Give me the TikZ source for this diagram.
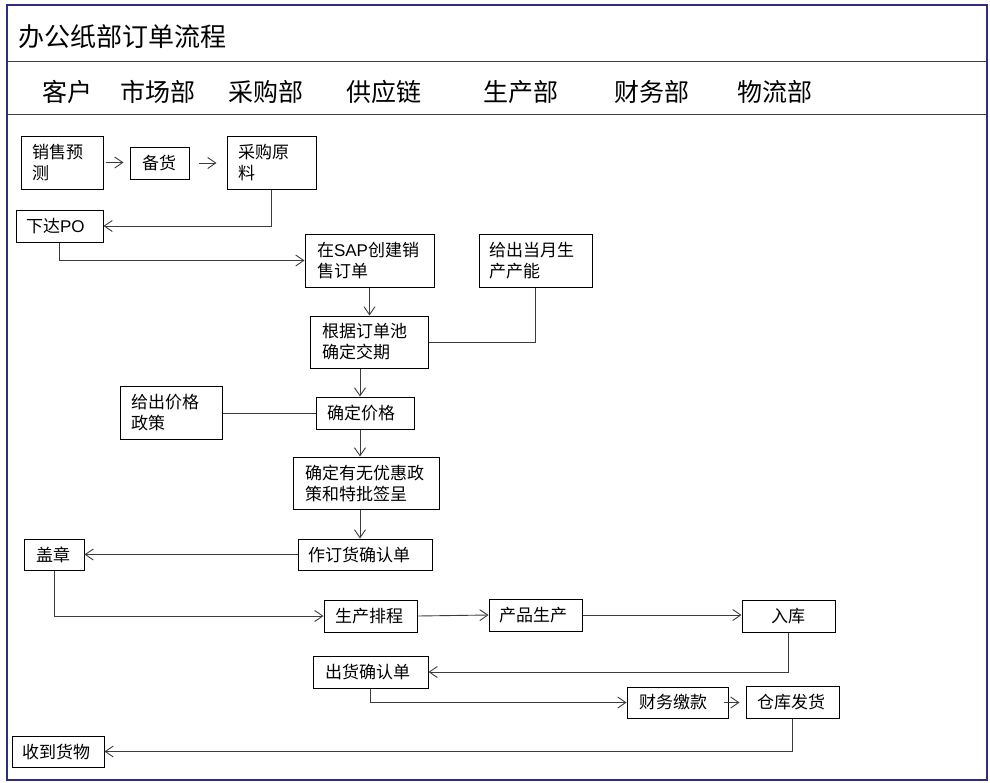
\documentclass[tikz,border=0pt]{standalone}
\usepackage{fontspec}
\setmainfont{Noto Sans CJK SC}
\newfontfamily\lat{Liberation Sans}
\usetikzlibrary{arrows.meta}
\definecolor{framec}{RGB}{45,45,130}
\definecolor{linec}{RGB}{60,60,60}
\tikzset{
  boxst/.style={draw=black, line width=1pt, inner ysep=0pt, align=left,
    font=\fontsize{17}{21}\selectfont},
  conn/.style={draw=linec, line width=0.9pt},
  arr/.style={conn, -{Straight Barb[length=8pt,width=11pt]}},
  headst/.style={font=\fontsize{25}{28}\selectfont, inner sep=0pt},
  titlest/.style={font=\fontsize{26}{30}\selectfont, inner sep=0pt, anchor=west},
  sepline/.style={draw=black!75, line width=1pt},
  framest/.style={draw=framec, line width=1.2pt}
}
\newcommand\mkbox[7][11]{%
  \pgfmathsetmacro\mbw{#5-#3}%
  \pgfmathsetmacro\mbh{#6-#4}%
  \pgfmathsetmacro\mbt{#5-#3-2*#1}%
  \node[boxst, minimum width=\mbw pt, minimum height=\mbh pt,
        text width=\mbt pt, inner xsep=#1pt] (#2) at ({(#3+#5)/2},{(#4+#6)/2}) {#7};
}
\begin{document}
\begin{tikzpicture}[x=1pt,y=-1pt]
\useasboundingbox (0,0) rectangle (990,782);
% frame and header
\draw[framest] (7,5) rectangle (987,780);
\draw[sepline] (7,61) -- (987,61);
\draw[sepline] (7,114) -- (987,114);
\node[titlest] (title) at (18,37) {办公纸部订单流程};
\node[headst] (h1) at (67,92) {客户};
\node[headst] (h2) at (158,92) {市场部};
\node[headst] (h3) at (266,92) {采购部};
\node[headst] (h4) at (384,92) {供应链};
\node[headst] (h5) at (521,92) {生产部};
\node[headst] (h6) at (652,92) {财务部};
\node[headst] (h7) at (775,92) {物流部};
% boxes
\mkbox{xsyc}{21}{136}{103}{189}{销售预\\测}
\mkbox[12]{bh}{130}{147}{189}{179}{备货}
\mkbox{cgyl}{227}{136}{316}{189}{采购原\\料}
\mkbox[10]{xdpo}{16}{210}{103}{242}{下达{\lat PO}}
\mkbox[12]{sap}{305}{234}{434}{287}{在{\lat SAP}创建销\\售订单}
\mkbox[10]{cn}{479}{234}{592}{287}{给出当月生\\产产能}
\mkbox[12]{gjd}{310}{316}{428}{368}{根据订单池\\确定交期}
\mkbox{jgzc}{120}{386}{222}{439}{给出价格\\政策}
\mkbox{qdjg}{316}{397}{414}{429}{确定价格}
\mkbox[12]{yhzc}{293}{457}{439}{509}{确定有无优惠政\\策和特批签呈}
\mkbox[10]{dhqr}{298}{539}{432}{570}{作订货确认单}
\mkbox[12]{gz}{24}{539}{84}{570}{盖章}
\mkbox{scpc}{324}{600}{417}{632}{生产排程}
\mkbox[10]{cpsc}{489}{599}{582}{631}{产品生产}
\mkbox[29]{rk}{742}{600}{835}{632}{入库}
\mkbox[12]{chqr}{313}{656}{428}{688}{出货确认单}
\mkbox[12]{cwjk}{627}{687}{728}{718}{财务缴款}
\mkbox{ckfh}{746}{686}{839}{718}{仓库发货}
\mkbox[10]{sdhw}{12}{736}{104}{767}{收到货物}
% connectors
\draw[arr, shorten <=2pt, shorten >=6pt] (xsyc.east) -- (xsyc.east -| bh.west);
\draw[arr, shorten <=9pt, shorten >=10pt] (bh.east) -- (bh.east -| cgyl.west);
\draw[arr] (cgyl.south) |- (xdpo.east);
\draw[arr] (xdpo.south) |- (sap.west);
\draw[arr] (sap.south) -- (sap.south |- gjd.north);
\draw[conn] (gjd.east) -| (cn.south);
\draw[arr] ([xshift=-9pt]gjd.south) -- ([xshift=-9pt]gjd.south |- qdjg.north);
\draw[conn] (jgzc.east |- qdjg.west) -- (qdjg.west);
\draw[arr] ([xshift=-5pt]qdjg.south) -- ([xshift=-5pt]qdjg.south |- yhzc.north);
\draw[arr] ([xshift=-6pt]yhzc.south) -- ([xshift=-6pt]yhzc.south |- dhqr.north);
\draw[arr] (dhqr.west) -- (gz.east);
\draw[arr] (gz.south) |- (scpc.west);
\draw[arr] (scpc.east) -- (cpsc.west);
\draw[arr] (cpsc.east) -- (cpsc.east -| rk.west);
\draw[arr] (rk.south) |- (chqr.east);
\draw[arr] (chqr.south) |- (cwjk.west);
\draw[arr, shorten <=-5pt, shorten >=6pt] (cwjk.east) -- (cwjk.east -| ckfh.west);
\draw[arr] (ckfh.south) |- (sdhw.east);
\end{tikzpicture}
\end{document}
